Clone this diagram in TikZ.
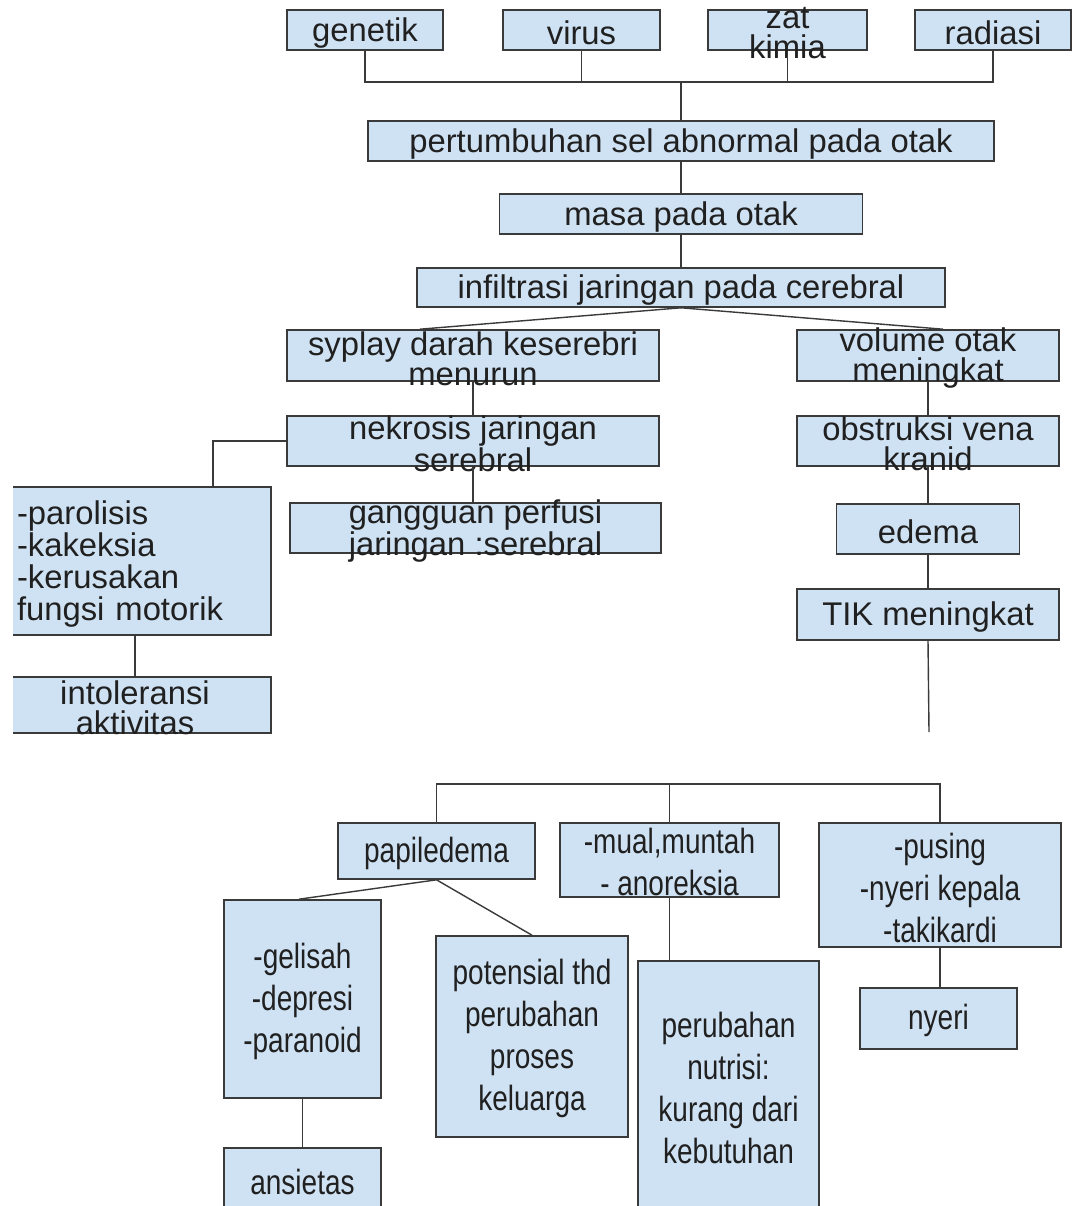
\documentclass[tikz,border=0pt]{standalone}
\usepackage{fontspec}
\setmainfont{Liberation Sans}
\newfontfamily\sempit[FakeStretch=0.8]{Liberation Sans}
\definecolor{isi}{HTML}{CFE2F3}
\definecolor{tepi}{HTML}{3A3A3A}
\definecolor{tulisan}{HTML}{202020}

\begin{document}
\begin{tikzpicture}[x=1pt, y=-1pt,
    kotak/.style={draw=tepi, fill=isi, line width=1.6pt, inner sep=0pt},
    teks/.style={font=\fontsize{32.8}{30}\selectfont, text=tulisan, align=center, inner sep=0pt, yshift=-3pt},
    teksb/.style={font=\sempit\fontsize{35}{42}\selectfont, text=tulisan, align=center, inner sep=0pt},
    garis/.style={draw=tepi, line width=1.4pt}]
    \useasboundingbox[fill=white] (0,0) rectangle (1076,1206);
    \clip (13,0) rectangle (1076,1206);

    % Penyebab
    \node[kotak, minimum width=156pt, minimum height=40pt, label={[teks]center:genetik}] (genetik) at (365,30) {};
    \node[kotak, minimum width=157pt, minimum height=40pt, label={[teks]center:virus}] (virus) at (581.5,30) {};
    \node[kotak, minimum width=159pt, minimum height=40pt, label={[teks]center:{zat\\kimia}}] (zat) at (787.5,30) {};
    \node[kotak, minimum width=156pt, minimum height=40pt, label={[teks]center:radiasi}] (radiasi) at (993,30) {};
    \coordinate (gabung) at (681,82);
    \draw[garis] (genetik.south) |- (gabung) -| (radiasi.south);
    \draw[garis] (virus.south) -- (virus.south |- gabung);
    \draw[garis] (zat.south) -- (zat.south |- gabung);

    % Alur tengah
    \node[kotak, minimum width=626pt, minimum height=40pt, label={[teks]center:pertumbuhan sel abnormal pada otak}] (pertumbuhan) at (681,141) {};
    \node[kotak, minimum width=363pt, minimum height=40pt, label={[teks]center:masa pada otak}] (masa) at (681,214) {};
    \node[kotak, minimum width=528pt, minimum height=39pt, label={[teks]center:infiltrasi jaringan pada cerebral}] (infiltrasi) at (681,287.5) {};
    \draw[garis] (gabung) -- (pertumbuhan.north);
    \draw[garis] (pertumbuhan.south) -- (masa.north);
    \draw[garis] (masa.south) -- (infiltrasi.north);

    % Cabang kiri
    \node[kotak, minimum width=372pt, minimum height=51pt, label={[teks]center:{syplay darah keserebri\\menurun}}] (syplay) at (473,355.5) {};
    \node[kotak, minimum width=372pt, minimum height=50pt, label={[teks]center:{nekrosis jaringan\\serebral}}] (nekrosis) at (473,441) {};
    \node[kotak, minimum width=371pt, minimum height=50pt, label={[teks]center:{gangguan perfusi\\jaringan :serebral}}] (gangguan) at (475.5,528) {};
    \node[kotak, minimum width=272pt, minimum height=148pt, label={[teks, align=left, text width=248pt, xshift=6pt, font=\fontsize{32.8}{32}\selectfont]center:{-parolisis\\-kakeksia\\-kerusakan\\fungsi motorik}}] (parolisis) at (135,561) {};
    \node[kotak, minimum width=272pt, minimum height=56pt, label={[teks]center:{intoleransi\\aktivitas}}] (intoleransi) at (135,705) {};
    \draw[garis] (infiltrasi.south) -- ([xshift=-53pt]syplay.north);
    \draw[garis] (syplay.south) -- (nekrosis.north);
    \draw[garis] (nekrosis.south) -- (nekrosis.south |- gangguan.north);
    \draw[garis] (nekrosis.west) -| ([xshift=78pt]parolisis.north);
    \draw[garis] (parolisis.south) -- (intoleransi.north);

    % Cabang kanan
    \node[kotak, minimum width=262pt, minimum height=51pt, label={[teks]center:{volume otak\\meningkat}}] (volume) at (928,355.5) {};
    \node[kotak, minimum width=262pt, minimum height=50pt, label={[teks]center:{obstruksi vena\\kranid}}] (obstruksi) at (928,441) {};
    \node[kotak, minimum width=183pt, minimum height=50pt, label={[teks]center:edema}] (edema) at (928,529) {};
    \node[kotak, minimum width=262pt, minimum height=51pt, label={[teks]center:TIK meningkat}] (tik) at (928,614.5) {};
    \coordinate (ujung) at (929,732);
    \draw[garis] (infiltrasi.south) -- ([xshift=15pt]volume.north);
    \draw[garis] (volume.south) -- (obstruksi.north);
    \draw[garis] (obstruksi.south) -- (edema.north);
    \draw[garis] (edema.south) -- (tik.north);
    \draw[garis] (tik.south) -- (ujung);

    % Dampak TIK
    \node[kotak, minimum width=197pt, minimum height=56pt, label={[teksb, yshift=-2pt]center:papiledema}] (papiledema) at (436.5,851) {};
    \node[kotak, minimum width=219pt, minimum height=74pt, label={[teksb, yshift=-2pt]center:{-mual,muntah\\- anoreksia}}] (mual) at (669.5,860) {};
    \node[kotak, minimum width=242pt, minimum height=124pt, label={[teksb, yshift=-3pt]center:{-pusing\\-nyeri kepala\\-takikardi}}] (pusing) at (940,885) {};
    \coordinate (cabang) at (669.5,784);
    \draw[garis] (papiledema.north) |- (cabang) -| (pusing.north);
    \draw[garis] (mual.north) -- (cabang);

    \node[kotak, minimum width=157pt, minimum height=198pt, label={[teksb, yshift=-2pt]center:{-gelisah\\-depresi\\-paranoid}}] (gelisah) at (302.5,999) {};
    \node[kotak, minimum width=157pt, minimum height=72pt, label={[teksb, yshift=2pt]center:ansietas}] (ansietas) at (302.5,1184) {};
    \node[kotak, minimum width=192pt, minimum height=201pt, label={[teksb, yshift=-2pt]center:{potensial thd\\perubahan\\proses\\keluarga}}] (potensial) at (532,1036.5) {};
    \node[kotak, minimum width=181pt, minimum height=269pt, label={[teksb, yshift=7.5pt]center:{perubahan\\nutrisi:\\kurang dari\\kebutuhan}}] (perubahan) at (728.5,1095.5) {};
    \node[kotak, minimum width=157pt, minimum height=61pt, label={[teksb, yshift=-2pt]center:nyeri}] (nyeri) at (938.5,1018.5) {};
    \draw[garis] (papiledema.south) -- ([xshift=-3.5pt]gelisah.north);
    \draw[garis] (papiledema.south) -- (potensial.north);
    \draw[garis] (gelisah.south) -- (ansietas.north);
    \draw[garis] (mual.south) -- (mual.south |- perubahan.north);
    \draw[garis] (pusing.south) -- (pusing.south |- nyeri.north);
\end{tikzpicture}
\end{document}
